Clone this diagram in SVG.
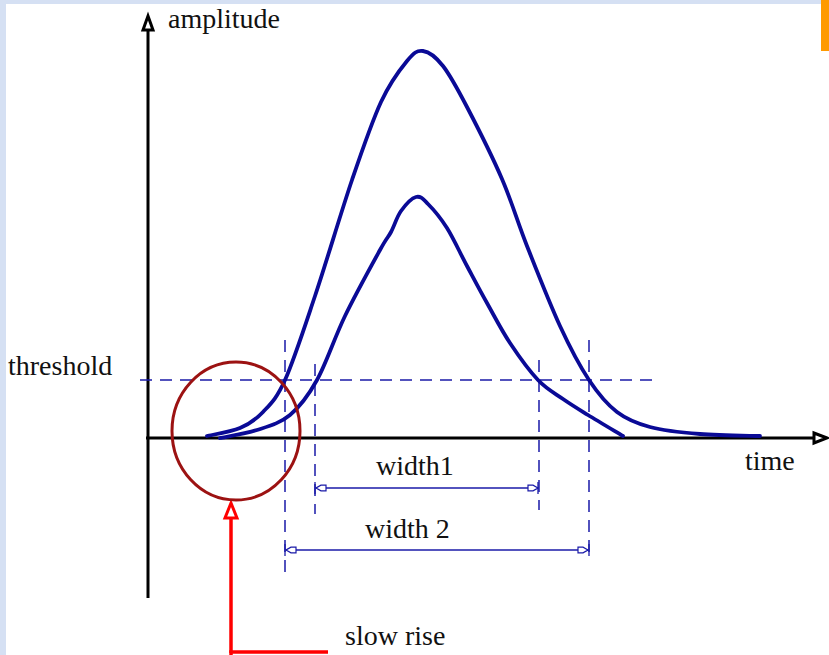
<svg xmlns="http://www.w3.org/2000/svg" width="829" height="655" viewBox="0 0 829 655">
<style>
.lbl{font-family:"Liberation Serif",serif;font-size:28px;fill:#111}
.axis{stroke:#000;stroke-width:3;fill:none}
.dash{stroke:#1a1aa8;stroke-width:1.5;stroke-dasharray:12 8;fill:none}
.curve{stroke:#0a0a96;stroke-width:3.8;fill:none;stroke-linecap:round;stroke-linejoin:round}
.dim{stroke:#1a1aa8;stroke-width:1.3;fill:none}
.tick{stroke:#1a1aa8;stroke-width:1.3}
</style>
<defs>
<marker id="dh" viewBox="0 0 12 8" refX="11" refY="4" markerWidth="12" markerHeight="8" markerUnits="userSpaceOnUse" orient="auto-start-reverse">
<path d="M11,4 L6,1.2 L1,1.2 L1,6.8 L6,6.8 Z" fill="#fff" stroke="#1a1aa8" stroke-width="1.2"/>
</marker>
</defs>
<rect x="0" y="0" width="829" height="655" fill="#fff"/>
<rect x="0" y="0" width="829" height="4" fill="#d5e0f3"/>
<rect x="0" y="0" width="6" height="655" fill="#d5e0f3"/>
<rect x="821" y="0" width="8" height="51" fill="#ff9a00"/>
<g id="axes">
<line class="axis" x1="148" y1="598" x2="148" y2="28"/>
<polygon points="148,16 143,30 153,30" fill="#fff" stroke="#000" stroke-width="3"/>
<line class="axis" x1="146" y1="438" x2="815" y2="438"/>
<polygon points="827,438 814,433 814,443" fill="#fff" stroke="#000" stroke-width="3"/>
</g>
<g id="connectors">
<line class="dash" x1="140" y1="380" x2="652" y2="380"/>
<line class="dash" x1="285" y1="340" x2="285" y2="576"/>
<line class="dash" x1="315" y1="364" x2="315" y2="514"/>
<line class="dash" x1="539" y1="360" x2="539" y2="510"/>
<line class="dash" x1="589" y1="340" x2="589" y2="560"/>
<line class="dim" x1="316" y1="488" x2="538" y2="488" marker-start="url(#dh)" marker-end="url(#dh)"/>
<line class="dim" x1="286" y1="550" x2="588" y2="550" marker-start="url(#dh)" marker-end="url(#dh)"/>
<line class="tick" x1="315" y1="482" x2="315" y2="494"/>
<line class="tick" x1="538" y1="482" x2="538" y2="494"/>
<line class="tick" x1="285" y1="544" x2="285" y2="556"/>
<line class="tick" x1="589" y1="544" x2="589" y2="556"/>
<polyline points="231,655 231,652 328,652" fill="none" stroke="#ff0000" stroke-width="3.5"/>
<line x1="231" y1="653" x2="231" y2="514" stroke="#ff0000" stroke-width="3.5"/>
<polygon points="231,503 225,518 237,518" fill="#fff" stroke="#ff0000" stroke-width="3"/>
</g>
<g id="curves">
<path class="curve" d="M207,436 C212.5,434.7 230.7,432 240,428 C249.3,424 255.5,420 263,412 C270.5,404 276.3,399.3 285,380 C293.7,360.7 303.8,329.3 315,296 C326.2,262.7 341,212.3 352,180 C363,147.7 371.8,121.8 381,102 C390.2,82.2 400,69.5 407,61 C414,52.5 417,50.2 423,51 C429,51.8 435.7,56.7 443,66 C450.3,75.3 457.2,88.2 467,107 C476.8,125.8 492,155.8 502,179 C512,202.2 517.3,221.5 527,246 C536.7,270.5 549.7,303.7 560,326 C570.3,348.3 579.5,365.7 589,380 C598.5,394.3 606.8,404.2 617,412 C627.2,419.8 636.2,423.3 650,427 C663.8,430.7 681.7,432.5 700,434 C718.3,435.5 750,435.7 760,436"/>
<path class="curve" d="M220,438 C226.2,436.7 245.3,433.8 257,430 C268.7,426.2 280,423.3 290,415 C300,406.7 307.8,396.5 317,380 C326.2,363.5 334.5,337.7 345,316 C355.5,294.3 372.3,264 380,250 C387.7,236 387.5,238.5 391,232 C394.5,225.5 396.8,216.8 401,211 C405.2,205.2 411.5,198.2 416,197 C420.5,195.8 422.8,198.8 428,204 C433.2,209.2 440.5,217.7 447,228 C453.5,238.3 460.3,253.5 467,266 C473.7,278.5 479.8,290.2 487,303 C494.2,315.8 501.5,330.2 510,343 C518.5,355.8 529.2,370.7 538,380 C546.8,389.3 554.7,393.2 563,399 C571.3,404.8 578,408.8 588,415 C598,421.2 617.2,432.5 623,436"/>
</g>
<g id="circle">
<ellipse cx="236" cy="431" rx="64" ry="69" fill="none" stroke="#9c1212" stroke-width="3"/>
</g>
<g id="labels">
<text class="lbl" x="168" y="28">amplitude</text>
<text class="lbl" x="8" y="375">threshold</text>
<text class="lbl" x="745" y="470">time</text>
<text class="lbl" x="376" y="475">width1</text>
<text class="lbl" x="365" y="538">width 2</text>
<text class="lbl" x="345" y="645">slow rise</text>
</g>
</svg>
